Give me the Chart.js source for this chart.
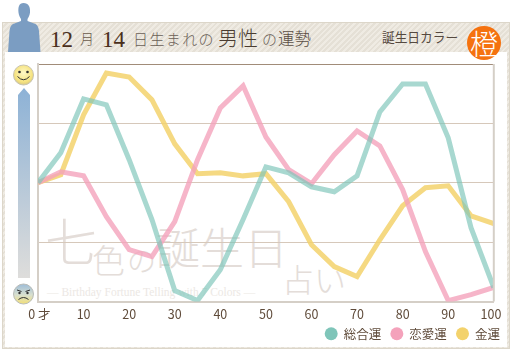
<!DOCTYPE html>
<html lang="ja"><head><meta charset="utf-8">
<style>
html,body{margin:0;padding:0;background:#fff;width:512px;height:352px;overflow:hidden}
#wrap{position:relative;width:512px;height:352px;font-family:"Noto Sans CJK JP",sans-serif}
.abs{position:absolute;white-space:nowrap;line-height:1}
#frame{left:2px;top:22px;width:508px;height:327px;box-sizing:border-box;border:1px solid #dcd6c9;
 background:repeating-linear-gradient(135deg,#efebe3 0 2px,#e5e0d6 2px 4px)}
#inner{left:5px;top:52px;width:502px;height:295px;background:#fff}
.wm{color:#e4ddd9;font-family:"Noto Sans CJK JP",sans-serif;font-weight:300}
canvas{position:absolute;left:0;top:0}
</style></head><body>
<div id="wrap">
<div class="abs" id="frame"></div><div class="abs" id="inner"></div>
<div class="abs wm" style="left:45px;top:214px;font-size:52px">七</div>
<div class="abs wm" style="left:92px;top:243px;font-size:33px">色</div>
<div class="abs wm" style="left:127px;top:245px;font-size:29px">の</div>
<div class="abs wm" style="left:156px;top:224px;font-size:44px">誕生日</div>
<div class="abs wm" style="left:282px;top:262px;font-size:32px">占い</div>
<div class="abs wm" style="left:47px;top:287px;font-size:11.500px;font-weight:400;font-family:'Liberation Serif',serif;color:#ece8e4">— Birthday Fortune Telling with 7 Colors —</div>
<svg class="abs" style="left:0;top:0" width="512" height="352">
<defs>
<linearGradient id="g" x1="0" y1="0" x2="0" y2="1"><stop offset="0" stop-color="#8db2d6"/><stop offset="1" stop-color="#dedddb"/></linearGradient>
<radialGradient id="s" cx=".5" cy=".4" r=".65"><stop offset="0" stop-color="#fff9c8"/><stop offset=".7" stop-color="#f5e27e"/><stop offset="1" stop-color="#c9bd8a"/></radialGradient>
<linearGradient id="b" x1="0" y1="0" x2="0" y2="1"><stop offset="0" stop-color="#9dbcd8"/><stop offset=".55" stop-color="#d9e0cf"/><stop offset="1" stop-color="#f2df78"/></linearGradient>
</defs>
<path d="M23.500 3c5 0 7 4 6.500 9.500c-.3 3-1.500 5-2.500 6.500v2l8 3c2 1 3 3 3.500 7l1.500 21H8l1.500-21c.5-4 1.500-6 3.500-7l8-3v-2c-1-1.500-2.200-3.500-2.500-6.500C18 7 19 3 23.500 3z" fill="#7b9dc2"/>
<path d="M18 95l6-7l6 7V278H18z" fill="url(#g)"/>
<circle cx="23.500" cy="75" r="10" fill="url(#s)" stroke="#c9c4b0"/>
<circle cx="19.500" cy="72" r="1.300" fill="#333"/><circle cx="27.500" cy="72" r="1.300" fill="#333"/>
<path d="M17.500 76.500q6 6.500 12 0" fill="none" stroke="#333" stroke-width="1"/>
<circle cx="23.500" cy="294" r="10" fill="url(#b)" stroke="#b9bcb8"/>
<path d="M17 290l4.500 1.500M30 290l-4.500 1.500" stroke="#333" stroke-width="1"/>
<circle cx="19.500" cy="293" r="1.200" fill="#333"/><circle cx="27.500" cy="293" r="1.200" fill="#333"/>
<path d="M18.500 299.500q5-4 10 0" fill="none" stroke="#333" stroke-width="1"/>
<circle cx="484" cy="43" r="17" fill="#f5720f"/>
</svg>
<div class="abs" style="left:50px;top:27px;font:23px 'Liberation Serif',serif;color:#4a2f1c">12</div>
<div class="abs" style="left:80px;top:31px;font-size:14px;font-weight:300;color:#6a5a4c">月</div>
<div class="abs" style="left:102px;top:27px;font:23px 'Liberation Serif',serif;color:#4a2f1c">14</div>
<div class="abs" style="left:133px;top:31px;font-size:15px;font-weight:300;color:#6a5f56;letter-spacing:1.400px">日生まれの</div>
<div class="abs" style="left:218px;top:28px;font-size:20px;font-weight:300;color:#4a3c30">男性</div>
<div class="abs" style="left:262px;top:31px;font-size:15px;font-weight:300;color:#6a5f56">の</div>
<div class="abs" style="left:278px;top:30px;font-size:16.500px;font-weight:300;color:#5a4e44">運勢</div>
<div class="abs" style="left:382px;top:31px;font-size:12.700px;color:#55493f">誕生日カラー</div>
<div class="abs" style="left:470px;top:29px;font-size:28px;font-weight:300;color:#fff">橙</div>
<canvas id="c" width="512" height="352"></canvas>
</div>
<script src="https://cdn.jsdelivr.net/npm/chart.js@4"></script>
<script>
const ages=[0,5,10,15,20,25,30,35,40,45,50,55,60,65,70,75,80,85,90,95,100];
const sougou=[50,62.6,85.3,82.8,59.7,34.5,4.6,0.4,13.4,34.5,56.7,54.2,48.3,46.2,52.9,79.8,91.6,91.6,68.9,31.1,5.9];
const renai=[50,54.6,52.9,35.7,21.8,18.9,33.6,59.7,81.5,90.8,69.3,55.5,49.6,61.8,71.8,65.5,47.1,21,0.4,2.9,5.9];
const kinun=[50,53.4,78.6,96.2,94.5,84.9,66.4,53.8,54.2,52.9,53.8,42,23.9,14.7,10.5,26,40.3,47.9,48.7,36.1,32.8];
const seriesNames=['総合運','恋愛運','金運'];
const legendColors=['#7fc5b9','#f4a2bb','#f3d26c'];
const lineColors=['rgba(127,197,185,.68)','rgba(244,162,187,.8)','rgba(243,210,108,.85)'];
const pts=a=>a.map((v,i)=>({x:ages[i],y:v}));
const font='"Noto Sans CJK JP",sans-serif';
new Chart(document.getElementById('c'),{
 type:'line',
 data:{datasets:[
  {label:seriesNames[2],data:pts(kinun),borderColor:lineColors[2],backgroundColor:legendColors[2],order:3},
  {label:seriesNames[1],data:pts(renai),borderColor:lineColors[1],backgroundColor:legendColors[1],order:2},
  {label:seriesNames[0],data:pts(sougou),borderColor:lineColors[0],backgroundColor:legendColors[0],order:1}
 ]},
 options:{
  responsive:false,animation:false,
  layout:{padding:{left:38,right:14,top:64,bottom:2}},
  elements:{point:{radius:0},line:{borderWidth:5,tension:0,borderJoinStyle:'miter'}},
  scales:{
   x:{type:'linear',min:0,max:100,
    ticks:{stepSize:10,autoSkip:false,maxRotation:0,padding:5,color:'#5f4b3a',font:{family:font,size:12.5},
     callback:v=>v===0?' 0 才':(v===100?'100  ':String(v))},
    grid:{display:false,drawTicks:false},border:{color:'#d5cfc7',width:2}},
   y:{min:0,max:100,afterFit:s=>{s.width=0},
    ticks:{stepSize:25,display:false},
    grid:{drawTicks:false,color:c=>c.tick.value===100?'#a18c79':(c.tick.value===0?'#d5cfc7':'#d6c8ba'),lineWidth:c=>c.tick.value===0?2:1},
    border:{color:'#d5cfc7',width:2}}
  },
  plugins:{
   tooltip:{enabled:false},
   legend:{position:'bottom',align:'end',
    labels:{usePointStyle:true,pointStyle:'circle',boxHeight:9.2,padding:1,color:'#5f4b3a',font:{family:font,size:12.5},
     generateLabels(ch){
      const items=Chart.defaults.plugins.legend.labels.generateLabels(ch);
      items.forEach(it=>{it.fillStyle=legendColors[seriesNames.indexOf(it.text)];it.lineWidth=0;it.strokeStyle='transparent';if(it.text!==seriesNames[2])it.text+='   ';});
      return items;
     }}}
  }
 },
 plugins:[{id:'rightEdge',
  afterLayout(ch){ch.legend.left+=3;ch.legend.right+=3;},
  afterDatasetsDraw(ch){const a=ch.chartArea,x=ch.ctx;x.save();x.strokeStyle='#d5cfc7';x.lineWidth=2;x.beginPath();x.moveTo(a.right,a.top);x.lineTo(a.right,a.bottom);x.stroke();x.restore();}}]
});
</script>
</body></html>
